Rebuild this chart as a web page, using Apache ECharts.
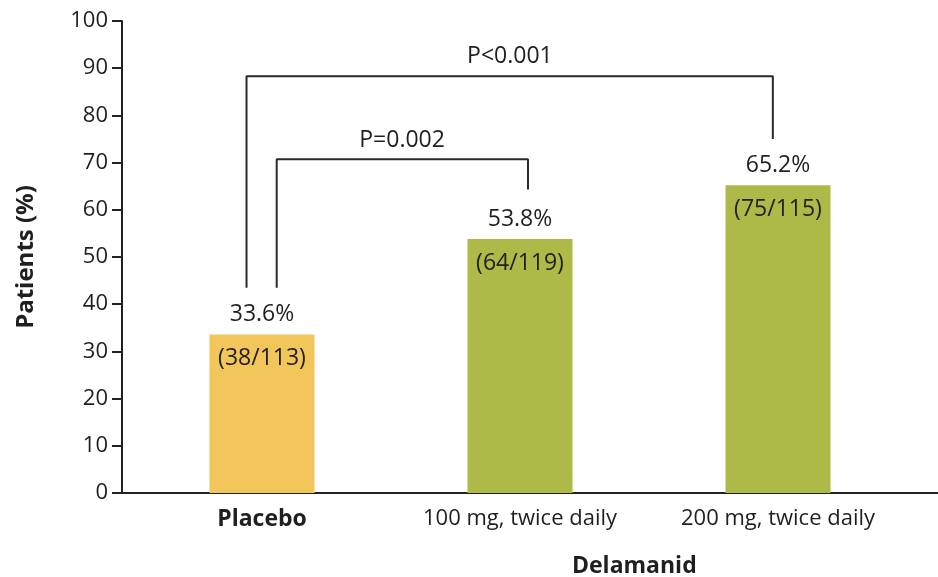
<!DOCTYPE html>
<html>
<head>
<meta charset="utf-8">
<script src="https://cdn.jsdelivr.net/npm/echarts@6/dist/echarts.min.js"></script>
<style>html,body{margin:0;padding:0;background:#fff}#c{width:938px;height:577px}</style>
</head>
<body>
<div id="c"></div>
<script>
// ---- data ----
var categories = ['Placebo', '100 mg, twice daily', '200 mg, twice daily'];
var percentValues = [33.6, 53.8, 65.2];
var responders = [38, 64, 75];
var totals = [113, 119, 115];
var yTicks = {min: 0, max: 100, interval: 10};
var groupLabel = 'Delamanid';
var yTitle = 'Patients (%)';
// comparison brackets: [x, y] in (category index, percent) space
var bracketOuter = [[-0.06, 43.5], [-0.06, 88.3], [1.98, 88.3], [1.98, 75.0]];
var bracketInner = [[0.057, 43.5], [0.057, 70.7], [1.031, 70.7], [1.031, 64.3]];
var pLabels = [[0.961, 92.4, 'P<0.001'], [0.543, 74.6, 'P=0.002']];

var FONT = '"Open Sans", "Noto Sans", sans-serif';
var TXT = '#1f1f1f';
var barColors = ['#F2C65A', '#AEBA47', '#AEBA47'];

var chart = echarts.init(document.getElementById('c'), null, {renderer: 'canvas'});
chart.setOption({
  backgroundColor: '#ffffff',
  animation: false,
  textStyle: {fontFamily: FONT},
  grid: [
    {left: 133, width: 774, top: 21, bottom: 84},
    {left: 122, right: 0, top: 21, bottom: 84}
  ],
  xAxis: [
    {
      type: 'category', gridIndex: 0,
      data: categories.map(function (c, i) {
        return i === 0 ? {value: c, textStyle: {fontWeight: 'bold', fontSize: 23}} : c;
      }),
      axisLine: {show: false}, axisTick: {show: false},
      axisLabel: {color: TXT, fontSize: 22, fontFamily: FONT, margin: 15, interval: 0}
    },
    {type: 'value', gridIndex: 0, min: -0.5, max: 2.5, show: false},
    {
      type: 'value', gridIndex: 1, min: 0, max: 1,
      axisLine: {show: true, onZero: false, lineStyle: {color: '#222', width: 2}},
      axisTick: {show: false}, axisLabel: {show: false}, splitLine: {show: false}
    }
  ],
  yAxis: [
    {
      type: 'value', gridIndex: 0, min: yTicks.min, max: yTicks.max, interval: yTicks.interval,
      offset: 11,
      name: yTitle, nameLocation: 'middle', nameRotate: 90, nameGap: 84,
      nameTextStyle: {color: TXT, fontSize: 24, fontWeight: 'bold', fontFamily: FONT},
      axisLine: {show: true, onZero: false, lineStyle: {color: '#222', width: 2}},
      axisTick: {show: true, inside: false, length: 10, lineStyle: {color: '#222', width: 2}},
      axisLabel: {color: TXT, fontSize: 22, fontFamily: FONT, margin: 14},
      splitLine: {show: false}
    },
    {type: 'value', gridIndex: 1, min: 0, max: 100, show: false}
  ],
  graphic: [{
    type: 'text', left: 636 - 64, top: 555,
    style: {text: groupLabel, font: 'bold 23px ' + FONT, fill: TXT}
  }],
  series: [
    {
      type: 'bar', xAxisIndex: 0, yAxisIndex: 0, barWidth: 105,
      data: percentValues.map(function (v, i) {
        return {value: v, itemStyle: {color: barColors[i]}};
      }),
      label: {
        show: true, position: 'top', distance: 8, color: TXT, fontSize: 23, fontFamily: FONT,
        formatter: function (p) { return p.value.toFixed(1) + '%'; }
      },
      silent: true
    },
    {
      type: 'bar', xAxisIndex: 0, yAxisIndex: 0, barWidth: 105, barGap: '-100%',
      data: percentValues,
      itemStyle: {color: 'rgba(0,0,0,0)'},
      label: {
        show: true, position: 'insideTop', distance: 13, color: TXT, fontSize: 23, fontFamily: FONT,
        formatter: function (p) { return '(' + responders[p.dataIndex] + '/' + totals[p.dataIndex] + ')'; }
      },
      silent: true, z: 3
    },
    {
      type: 'line', xAxisIndex: 1, yAxisIndex: 0, data: bracketOuter,
      symbol: 'none', lineStyle: {color: '#2a2a2a', width: 2}, silent: true, z: 4
    },
    {
      type: 'line', xAxisIndex: 1, yAxisIndex: 0, data: bracketInner,
      symbol: 'none', lineStyle: {color: '#2a2a2a', width: 2}, silent: true, z: 4
    },
    {
      type: 'scatter', xAxisIndex: 1, yAxisIndex: 0, symbolSize: 0,
      itemStyle: {color: TXT, opacity: 1},
      data: pLabels.map(function (p) { return {value: [p[0], p[1]], name: p[2]}; }),
      label: {show: true, position: 'inside', color: TXT, opacity: 1, fontSize: 23, fontFamily: FONT,
        formatter: function (p) { return p.name; }},
      silent: true, z: 5
    }
  ]
});
</script>
</body>
</html>
